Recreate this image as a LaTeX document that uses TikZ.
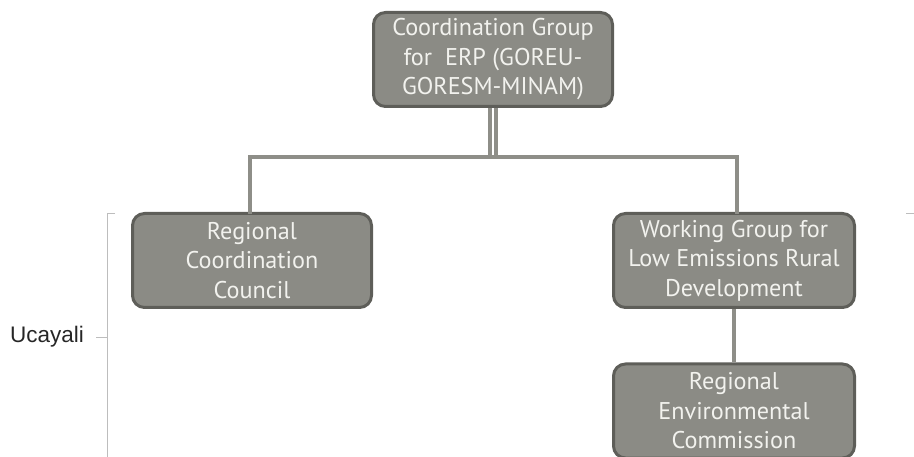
\documentclass[tikz,border=0pt]{standalone}
\usepackage{fontspec}
\setmainfont{PT Sans}
\newfontfamily\labelfont{Liberation Sans}
\definecolor{boxfill}{HTML}{8B8B85}
\definecolor{boxedge}{HTML}{5E5E59}
\definecolor{boxtext}{HTML}{F2F2EE}
\definecolor{linkcol}{HTML}{8E8E88}
\definecolor{brace}{HTML}{BDBDBD}
\begin{document}
\begin{tikzpicture}[x=1pt,y=-1pt,
  orgbox/.style={draw=boxedge, line width=3pt, fill=boxfill, rounded corners=12pt,
    text=boxtext, align=center, font=\fontsize{24.2}{29.5}\selectfont,
    minimum width=239pt, minimum height=94pt, inner sep=2pt},
  link/.style={draw=linkcol, line width=3.5pt},
  bracket/.style={draw=brace, line width=1pt}]
\useasboundingbox (0,0) rectangle (914,457);

% organisation boxes
\node[orgbox] (erp) at (493,59.5) {Coordination Group\\for\ \ ERP (GOREU-\\GORESM-MINAM)};
\node[orgbox] (rcc) at (252,260.5) {Regional\\Coordination\\Council};
\node[orgbox, minimum width=241pt] (wg) at (734,260.5) {Working Group for\\Low Emissions Rural\\Development};
\node[orgbox, minimum width=241pt] (rec) at (734,411) {Regional\\Environmental\\Commission};

% tree connectors
\coordinate (bus) at (493,157);
\draw[link] ([xshift=-3pt]erp.south) -- ([xshift=-3pt]erp.south |- bus);
\draw[link] ([xshift=3pt]erp.south) -- ([xshift=3pt]erp.south |- bus);
\draw[link, line cap=rect] (rcc.north -| 250,0) |- (bus) -| (wg.north -| 737,0);
\draw[link] (wg.south) -- (rec.north);

% region bracket
\coordinate (bt) at (107,214);
\coordinate (bb) at (107,457);
\draw[bracket] (115,214) -- (bt) -- (bb);
\draw[bracket] (96,338) -- (107,338);
\draw[bracket] (906,214) -- (914,214);
\node[anchor=east, text=black!85, font=\labelfont\fontsize{22.5}{25}\selectfont, inner sep=0pt] (uca) at (84,337) {Ucayali};
\end{tikzpicture}
\end{document}
